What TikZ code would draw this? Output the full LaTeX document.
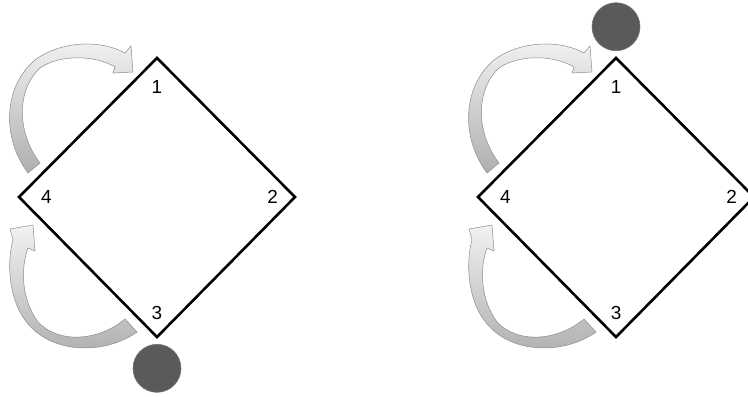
\documentclass[tikz,border=0pt]{standalone}
\usepackage{fontspec}
\setmainfont{Liberation Sans}
\usetikzlibrary{positioning}
\definecolor{ballGray}{RGB}{90, 90, 90}
\definecolor{swingLight}{RGB}{242, 242, 242}
\definecolor{swingDark}{RGB}{175, 175, 175}
\definecolor{swingEdge}{RGB}{140, 140, 140}

\tikzset{
  plate/.style={draw=black, line width=2.6bp, line join=miter},
  lbl/.style={inner sep=0pt, font=\fontsize{19}{22}\selectfont},
  ball/.style={circle, fill=ballGray, draw=ballGray!85!white, line width=0.6bp,
    minimum size=48bp, inner sep=0pt},
  swing/.style={top color=swingLight, bottom color=swingDark, draw=swingEdge, line width=0.5bp}
}

% curved arrows, drawn in pixel units (y downwards)
\newcommand{\swingtop}{%
  \path[swing] (28,173) .. controls (0,135) and (5,85) .. (35,60)
    .. controls (62,40) and (102,40) .. (125,53) -- (131,46) -- (133,72)
    -- (113,73) -- (115,67) .. controls (95,55) and (60,54) .. (40,68)
    .. controls (18,88) and (15,130) .. (40,163) -- cycle;}
\newcommand{\swingbottom}{%
  \path[swing] (137,332) .. controls (105,355) and (50,355) .. (25,320)
    .. controls (10,300) and (6,265) .. (13,240) -- (10,229) -- (33,225)
    -- (35,251) -- (28,248) .. controls (20,270) and (22,300) .. (38,322)
    .. controls (60,345) and (100,340) .. (125,319) -- cycle;}

\begin{document}
\begin{tikzpicture}[x=1bp, y=-1bp]
    \useasboundingbox (0,0) rectangle (748,396);

    % left plate
    \coordinate (a1) at (157,58);
    \coordinate (a2) at (295,197);
    \coordinate (a3) at (157,337);
    \coordinate (a4) at (19,197);
    \draw[plate] (a1) -- (a2) -- (a3) -- (a4) -- cycle;
    \node[lbl, below=22bp of a1] (la1) {1};
    \node[lbl, left=17bp of a2] (la2) {2};
    \node[lbl, above=17bp of a3] (la3) {3};
    \node[lbl, right=22bp of a4] (la4) {4};
    \node[ball, below=7bp of a3] (ballA) {};
    \swingtop
    \swingbottom

    % right plate
    \begin{scope}[xshift=459bp]
      \coordinate (b1) at (157,58);
      \coordinate (b2) at (295,197);
      \coordinate (b3) at (157,337);
      \coordinate (b4) at (19,197);
      \draw[plate] (b1) -- (b2) -- (b3) -- (b4) -- cycle;
      \node[lbl, below=22bp of b1] (lb1) {1};
      \node[lbl, left=17bp of b2] (lb2) {2};
      \node[lbl, above=17bp of b3] (lb3) {3};
      \node[lbl, right=22bp of b4] (lb4) {4};
      \node[ball, above=7bp of b1] (ballB) {};
      \swingtop
      \swingbottom
    \end{scope}
\end{tikzpicture}
\end{document}
